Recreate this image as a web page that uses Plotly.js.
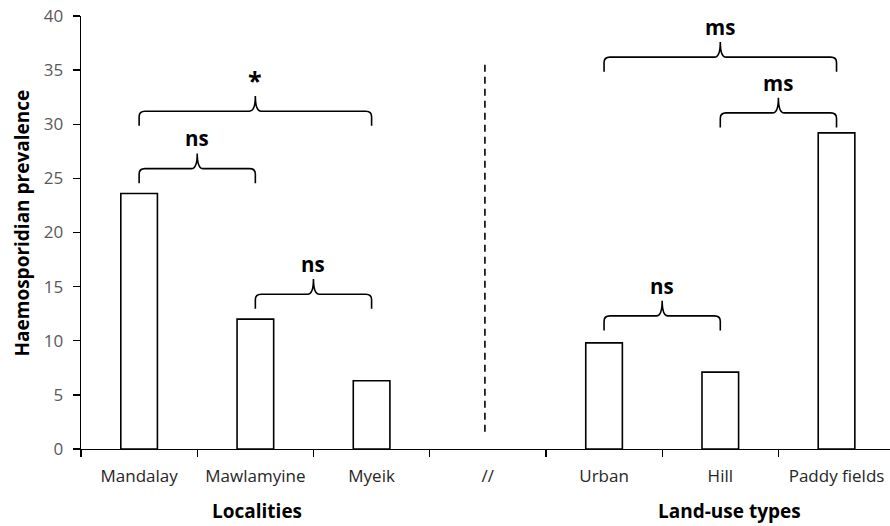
<!DOCTYPE html>
<html>
<head>
<meta charset="utf-8">
<script src="https://cdn.plot.ly/plotly-3.0.1.min.js"></script>
<style>html,body{margin:0;padding:0;background:#fff;}#chart{width:890px;height:526px;}</style>
</head>
<body>
<div id="chart"></div>
<script>
// ---- data ----
const categories = ['Mandalay', 'Mawlamyine', 'Myeik', '//', 'Urban', 'Hill', 'Paddy fields'];
const prevalence = [23.6, 12.0, 6.3, null, 9.8, 7.1, 29.2];
const yTicks = [0, 5, 10, 15, 20, 25, 30, 35, 40];

// pairwise comparisons (category indices), bracket level and label
const compFrom  = [0, 0, 1, 4, 5, 4];
const compTo    = [1, 2, 2, 5, 6, 6];
const compLevel = [25.9, 31.2, 14.3, 12.3, 31.05, 36.2];
const compLabel = ['ns', '*', 'ns', 'ns', 'ms', 'ms'];

const groupLabels = ['Localities', 'Land-use types'];
const groupFrom = [0, 4];
const groupTo = [2, 6];

const separatorIndex = 2.975;
const separatorSpan = [1.6, 35.9];

// ---- build ----
const xIdx = categories.map((c, i) => i);
const FONT = '"Open Sans", "Noto Sans", sans-serif';

const trace = {
  type: 'bar',
  x: xIdx,
  y: prevalence,
  width: 0.315,
  marker: {color: '#ffffff', line: {color: '#000000', width: 1.6}},
  hoverinfo: 'skip'
};

const shapes = [];
const annotations = [];
const drop = 1.35, rise = 1.4, rx = 0.05, ry = 0.5;
for (let k = 0; k < compFrom.length; k++) {
  const x0 = compFrom[k], x1 = compTo[k], y = compLevel[k];
  const xm = (x0 + x1) / 2;
  const p = 'M ' + x0 + ',' + (y - drop) +
    ' L ' + x0 + ',' + (y - ry) +
    ' Q ' + x0 + ',' + y + ' ' + (x0 + rx) + ',' + y +
    ' L ' + (xm - rx) + ',' + y +
    ' Q ' + xm + ',' + y + ' ' + xm + ',' + (y + rise) +
    ' Q ' + xm + ',' + y + ' ' + (xm + rx) + ',' + y +
    ' L ' + (x1 - rx) + ',' + y +
    ' Q ' + x1 + ',' + y + ' ' + x1 + ',' + (y - ry) +
    ' L ' + x1 + ',' + (y - drop);
  shapes.push({type: 'path', xref: 'x', yref: 'y', path: p,
    line: {color: '#000000', width: 1.6}});
  const star = compLabel[k] === '*';
  annotations.push({x: xm, y: y + rise, xref: 'x', yref: 'y',
    text: '<b>' + compLabel[k] + '</b>', showarrow: false,
    yanchor: 'bottom', yshift: star ? -3 : -1,
    font: {family: FONT, size: star ? 25 : 20.5, color: '#000000'}});
}

shapes.push({type: 'line', xref: 'x', yref: 'y',
  x0: separatorIndex, x1: separatorIndex, y0: separatorSpan[0], y1: separatorSpan[1],
  line: {color: '#000000', width: 1.6, dash: '7px,5px'}});

for (let g = 0; g < groupLabels.length; g++) {
  annotations.push({x: (groupFrom[g] + groupTo[g]) / 2, y: 0, xref: 'x', yref: 'paper',
    yanchor: 'middle', yshift: -62, xshift: g === 1 ? 9 : 2,
    text: '<b>' + groupLabels[g] + '</b>', showarrow: false,
    font: {family: FONT, size: 19, color: '#000000'}});
}

annotations.push({x: 0, xref: 'paper', xshift: -60, y: 0.5, yref: 'paper', yshift: 9,
  text: '<b>Haemosporidian prevalence</b>', textangle: -90, showarrow: false,
  xanchor: 'center', yanchor: 'middle',
  font: {family: FONT, size: 19, color: '#000000'}});

const layout = {
  width: 890, height: 526,
  margin: {l: 81, r: 0, t: 16, b: 77},
  paper_bgcolor: '#ffffff', plot_bgcolor: '#ffffff',
  showlegend: false,
  bargap: 0,
  xaxis: {
    range: [-0.5, 6.46],
    tickvals: xIdx, ticktext: categories,
    ticks: '', showgrid: false, zeroline: false,
    showline: true, linecolor: '#000000', linewidth: 1.3,
    ticklabelstandoff: 11,
    tickfont: {family: FONT, size: 17, color: '#262626'},
    minor: {tick0: 0.5, dtick: 1, ticks: 'outside', ticklen: 7, tickcolor: '#000000', tickwidth: 1.3, showgrid: false},
    fixedrange: true
  },
  yaxis: {
    range: [0, 40],
    tickvals: yTicks,
    ticks: 'outside', ticklen: 7, tickcolor: '#000000', tickwidth: 1.3,
    showgrid: false, zeroline: false,
    showline: true, linecolor: '#000000', linewidth: 1.3,
    ticklabelstandoff: 6,
    tickfont: {family: FONT, size: 17, color: '#595959'},
    fixedrange: true
  },
  shapes: shapes,
  annotations: annotations
};

Plotly.newPlot('chart', [trace], layout, {displayModeBar: false, staticPlot: true});
</script>
</body>
</html>
